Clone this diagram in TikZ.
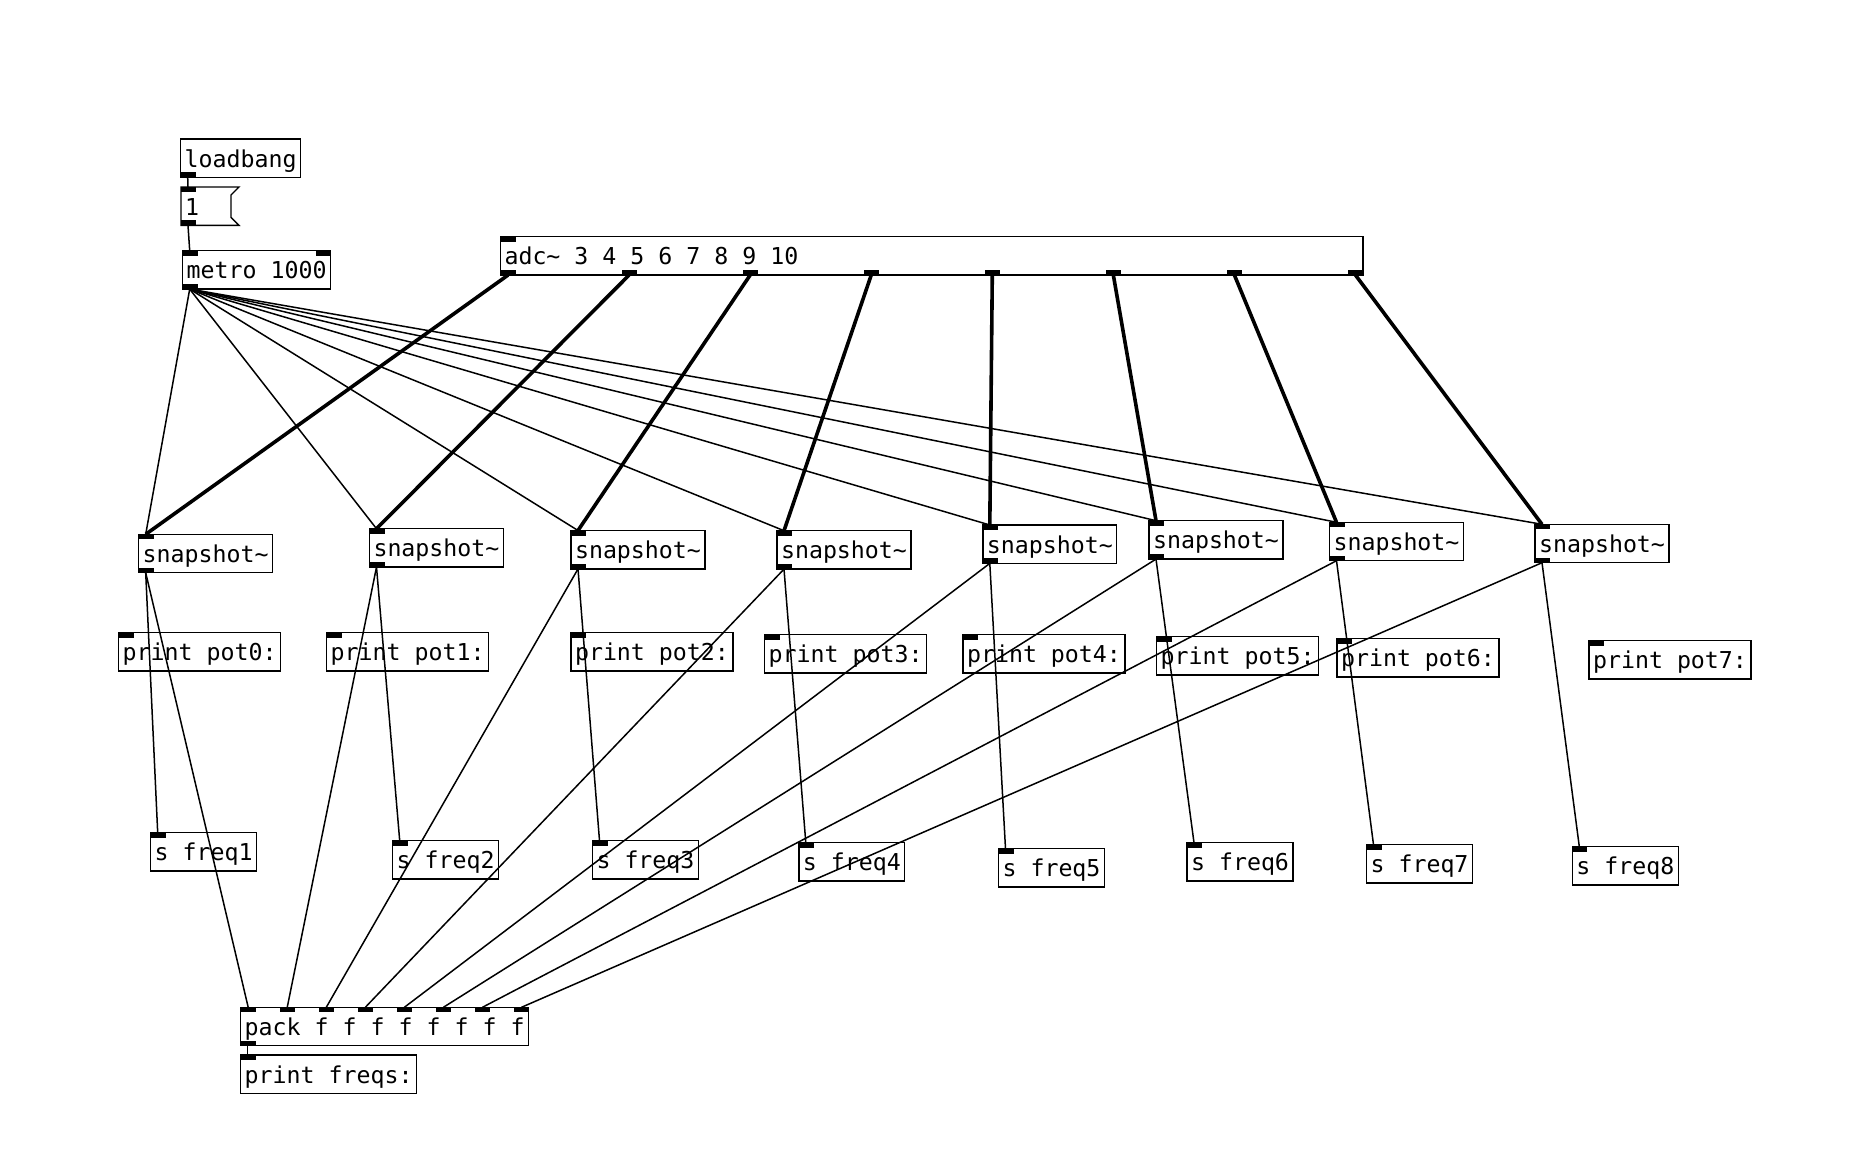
\documentclass[tikz,border=0pt]{standalone}
\usepackage{fontspec}
\setmonofont{DejaVu Sans Mono}
\usetikzlibrary{calc}
\newcommand\pdin[2]{\fill ([xshift=#2]#1.north west) rectangle ++(15,5);}
\newcommand\pdout[2]{\fill ([xshift=#2]#1.south west) rectangle ++(15,-5);}
\begin{document}
\begin{tikzpicture}[x=1pt,y=-1pt,
  pdbox/.style={draw, line width=1.4pt, anchor=north west, outer sep=0pt,
    inner xsep=4pt, inner ysep=0pt, minimum height=38.4pt,
    text height=20pt, text depth=2pt,
    font={\ttfamily\fontsize{23.25pt}{28pt}\selectfont}},
  ctl/.style={line width=1.5pt},
  sig/.style={line width=3.6pt}]
\useasboundingbox[fill=white] (0,0) rectangle (1854,1174);

% objects
\node[pdbox] (loadbang) at (180.7,139) {loadbang};
\node[pdbox, draw=none] (msg) at (181,187) {\makebox[42pt][l]{1}};
\draw[line width=1.4pt] (msg.north west) -- ([xshift=8pt]msg.north east)
  -- ([yshift=-8pt]msg.north east) -- ([yshift=8pt]msg.south east)
  -- ([xshift=8pt]msg.south east) -- (msg.south west) -- cycle;
\node[pdbox] (metro) at (182.7,250.7) {metro 1000};
\node[pdbox] (adc) at (500.5,236.7) {\makebox[854.5pt][l]{adc\textasciitilde{} 3 4 5 6 7 8 9 10}};

\foreach \i/\x/\y in {0/138.7/534.3, 1/369.5/528.7, 2/571/530.5, 3/777/530.7,
  4/982.8/525, 5/1149/520.7, 6/1329.5/522.3, 7/1535/524.3}
  {\node[pdbox] (snap\i) at (\x,\y) {snapshot\textasciitilde};}

\foreach \i/\x/\y in {0/118.7/632.7, 1/326.7/632.7, 2/571/632.7, 3/764.7/634.7,
  4/963/634.7, 5/1156.7/636.7, 6/1337/638.7, 7/1589/640.7}
  {\node[pdbox] (pot\i) at (\x,\y) {print pot\i:};}

\foreach \i/\x/\y [evaluate=\i as \j using int(\i+1)] in {0/150.7/832.7, 1/392.7/840.7, 2/592.5/840.7, 3/798.8/842.7,
  4/998.5/848.7, 5/1187/842.7, 6/1366.5/844.7, 7/1572.3/846.7}
  {\node[pdbox] (sf\i) at (\x,\y) {s freq\j};}

\node[pdbox] (pack) at (240.7,1007.3) {pack f f f f f f f f};
\node[pdbox] (freqs) at (240.7,1055) {print freqs:};

% iolets
\pdout{loadbang}{0pt}
\pdin{msg}{0pt} \pdout{msg}{0pt}
\pdin{metro}{0pt} \pdout{metro}{0pt}
\fill ([xshift=-15pt]metro.north east) rectangle ++(15,5);
\pdin{adc}{0pt}
\foreach \k in {0,...,7} {\pdout{adc}{121.07*\k}}
\foreach \k in {0,...,7} {\pdin{snap\k}{0pt} \pdout{snap\k}{0pt} \pdin{pot\k}{0pt} \pdin{sf\k}{0pt}}
\foreach \k in {0,...,7} {\pdin{pack}{39.04*\k}}
\pdout{pack}{0pt}
\pdin{freqs}{0pt}

% connections
\draw[ctl] ([xshift=7pt]loadbang.south west) -- ([xshift=7pt]msg.north west);
\draw[ctl] ([xshift=7pt]msg.south west) -- ([xshift=7pt]metro.north west);
\foreach \k in {0,...,7} {
  \draw[ctl] ([xshift=7pt]metro.south west) -- ([xshift=7pt]snap\k.north west);
  \draw[sig] ([xshift={7.5+121.07*\k}]adc.south west) -- ([xshift=7pt]snap\k.north west);
  \draw[ctl] ([xshift=7pt]snap\k.south west) -- ([xshift=7pt]sf\k.north west);
  \draw[ctl] ([xshift=7pt]snap\k.south west) -- ([xshift={7.5+39.04*\k}]pack.north west);
}
\draw[ctl] ([xshift=7pt]pack.south west) -- ([xshift=7pt]freqs.north west);
\end{tikzpicture}
\end{document}
